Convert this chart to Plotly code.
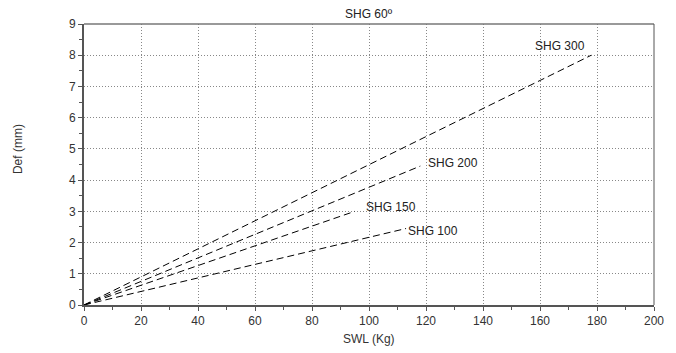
import plotly.graph_objects as go

series_names = ["SHG 300", "SHG 200", "SHG 150", "SHG 100"]
swl_end = [178, 118, 95, 113]
def_end = [8.0, 4.45, 3.0, 2.45]
label_x = [167, 129.5, 107.7, 122.6]
label_y = [8.3, 4.55, 3.15, 2.38]

x_ticks = [0, 20, 40, 60, 80, 100, 120, 140, 160, 180, 200]
y_ticks = [0, 1, 2, 3, 4, 5, 6, 7, 8, 9]

FONT = "Liberation Sans, Arial"

fig = go.Figure()
for name, xe, ye in zip(series_names, swl_end, def_end):
    fig.add_trace(go.Scatter(x=[0, xe], y=[0, ye], mode="lines", name=name,
                             line=dict(color="black", width=1, dash="7px,4px"),
                             showlegend=False))

for name, lx, ly in zip(series_names, label_x, label_y):
    fig.add_annotation(x=lx, y=ly, text=name, showarrow=False,
                       font=dict(size=12, color="#222", family=FONT))

fig.add_annotation(xref="paper", yref="paper", x=0.5, y=1.0, yanchor="middle",
                   text="SHG 60º", showarrow=False, yshift=10,
                   font=dict(size=12, color="#222", family=FONT))
fig.add_annotation(xref="paper", yref="paper", x=0.5, y=0.0, yanchor="middle",
                   text="SWL (Kg)", showarrow=False, yshift=-34,
                   font=dict(size=12, color="#333", family=FONT))
fig.add_annotation(xref="paper", yref="paper", x=0.0, y=0.555, xanchor="center",
                   yanchor="middle", text="Def (mm)", showarrow=False, xshift=-66,
                   textangle=-90, font=dict(size=12, color="#333", family=FONT))

axis_common = dict(
    showline=True, linecolor="#555", linewidth=2, mirror=False,
    ticks="outside", ticklen=4, tickcolor="#555", tickwidth=1,
    showgrid=True, gridcolor="#888", griddash="1px,2px", gridwidth=1,
    zeroline=False, tickfont=dict(size=12, color="#333", family=FONT),
)

fig.update_xaxes(range=[0, 200], tickvals=x_ticks, **axis_common,
                 minor=dict(dtick=10, ticks="outside", ticklen=3, tickcolor="#555", showgrid=False))
fig.update_yaxes(range=[0, 9], tickvals=y_ticks, **axis_common,
                 minor=dict(dtick=0.5, ticks="outside", ticklen=3, tickcolor="#555", showgrid=False))

# top and right border
fig.add_shape(type="line", xref="paper", yref="paper", x0=0, x1=1, y0=1, y1=1,
              line=dict(color="#777", width=1.5))
fig.add_shape(type="line", xref="paper", yref="paper", x0=1, x1=1, y0=0, y1=1,
              line=dict(color="#555", width=1))

fig.update_layout(width=676, height=353, margin=dict(l=84, r=22, t=24, b=48),
                  paper_bgcolor="white", plot_bgcolor="white",
                  font=dict(family=FONT, size=12, color="#333"))

fig.write_html("out.html", config={"displayModeBar": False},
               post_script="document.body.style.margin='0';document.body.style.overflow='hidden';")
